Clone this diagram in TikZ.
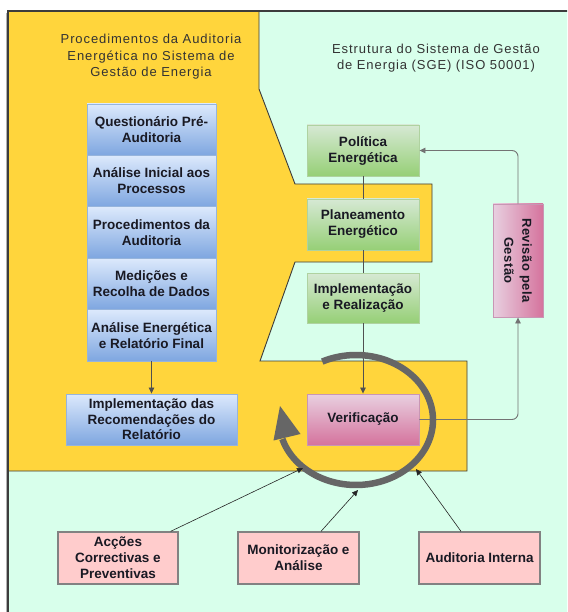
\documentclass[tikz,border=0pt]{standalone}
\usepackage{fontspec}
\setmainfont{Liberation Sans}
\newfontfamily\titlefont[LetterSpace=7]{Liberation Sans}
\newfontfamily\revfont[LetterSpace=4]{Liberation Sans}
\usetikzlibrary{arrows.meta}
\definecolor{mint}{RGB}{216,255,235}
\definecolor{sun}{RGB}{255,213,60}
\definecolor{edgegray}{RGB}{60,60,60}
\definecolor{bluetop}{RGB}{220,233,252}
\definecolor{bluebot}{RGB}{126,166,224}
\definecolor{blueedge}{RGB}{150,180,220}
\definecolor{greentop}{RGB}{214,233,212}
\definecolor{greenbot}{RGB}{150,207,118}
\definecolor{greenedge}{RGB}{175,210,160}
\definecolor{pinktop}{RGB}{232,208,224}
\definecolor{pinkbot}{RGB}{213,115,157}
\definecolor{pinkedge}{RGB}{200,150,180}
\definecolor{rosefill}{RGB}{255,204,204}
\definecolor{roseedge}{RGB}{130,130,130}
\definecolor{ringgray}{RGB}{102,102,102}
\definecolor{linegray}{RGB}{80,80,80}
\definecolor{txt}{RGB}{25,25,35}
\begin{document}
\begin{tikzpicture}[x=1pt,y=-1pt,
  boxtext/.style={align=center,text=txt,inner sep=1pt,
    font=\fontsize{13.5}{16}\selectfont\bfseries},
  bluebox/.style={boxtext,draw=blueedge,line width=0.9pt,top color=bluetop,bottom color=bluebot,
    minimum width=129pt,minimum height=51.4pt},
  greenbox/.style={boxtext,draw=greenedge,line width=0.9pt,top color=greentop,bottom color=greenbot,
    minimum width=112pt,minimum height=51pt},
  rosebox/.style={boxtext,draw=roseedge,line width=1.3pt,fill=rosefill,
    minimum width=120pt,minimum height=52pt},
  titletext/.style={align=center,text=black!80,inner sep=0pt,
    font=\fontsize{13}{16.5}\selectfont\titlefont},
  conn/.style={draw=linegray,line width=0.8pt},
  tip/.style={-{Triangle[length=6pt,width=5.5pt]}},
  loopline/.style={draw=black!55,line width=0.9pt,rounded corners=6pt},
  feed/.style={draw=black!85,line width=0.6pt}
]
\clip (0,0) rectangle (567,612);
\fill[white] (0,0) rectangle (567,612);
% background frame
\fill[mint] (8,11) rectangle (600,650);
% yellow region
\filldraw[fill=sun,draw=edgegray,line width=0.9pt]
  (8,11) -- (259,11) -- (259,89) -- (295,184) -- (432,184) -- (432,262)
  -- (295,262) -- (260,361) -- (467,361) -- (467,471) -- (8,471) -- cycle;
\draw[edgegray,line width=1.4pt] (600,11) -- (8,11) -- (8,650);
\draw[black!30,line width=0.8pt] (6.3,13) -- (6.3,650);

% titles
\node[titletext] (t1) at (151,57) {Procedimentos da Auditoria\\Energética no Sistema de\\Gestão de Energia};
\node[titletext] (t2) at (436,58) {Estrutura do Sistema de Gestão\\de Energia (SGE) (ISO 50001)};

% blue stack
\node[bluebox] (q1) at (151.5,129.7) {Questionário Pré-\\Auditoria};
\node[bluebox] (q2) at (151.5,181.1) {Análise Inicial aos\\Processos};
\node[bluebox] (q3) at (151.5,232.5) {Procedimentos da\\Auditoria};
\node[bluebox] (q4) at (151.5,283.9) {Medições e\\Recolha de Dados};
\node[bluebox] (q5) at (151.5,335.3) {Análise Energética\\e Relatório Final};
\node[bluebox,minimum width=171pt,minimum height=51pt,font=\fontsize{13.5}{15.5}\selectfont\bfseries] (rec) at (151.5,419.5) {Implementação das\\Recomendações do\\Relatório};

% green column
\node[greenbox] (pol) at (363,150.5) {Política\\Energética};
\node[greenbox] (plan) at (363,224.5) {Planeamento\\Energético};
\node[greenbox,minimum height=50pt] (impl) at (363,298) {Implementação\\e Realização};
\node[boxtext,draw=pinkedge,line width=0.9pt,top color=pinktop,bottom color=pinkbot,
  minimum width=112pt,minimum height=51pt] (ver) at (363,419.5) {Verificação};
\node[draw=pinkedge,line width=0.9pt,left color=pinktop,right color=pinkbot,inner sep=0pt,
  minimum width=50pt,minimum height=113pt] (rev) at (518,260.5) {};
\node[boxtext,rotate=-90,font=\fontsize{13}{18}\selectfont\bfseries\revfont] (revlabel) at (rev.center) {Revisão pela\\Gestão};

% bottom boxes
\node[rosebox] (acc) at (118,558) {Acções\\Correctivas e\\Preventivas};
\node[rosebox,minimum width=121pt] (mon) at (298.5,558) {Monitorização e\\Análise};
\node[rosebox,minimum width=121pt] (aud) at (479.5,558) {Auditoria Interna};

% connectors
\draw[conn] (pol) -- (plan);
\draw[conn] (plan) -- (impl);
\draw[conn,tip] (impl) -- (ver);
\draw[conn,tip] (q5) -- (rec);
\draw[loopline,tip] (ver.east) -| (rev.south);
\draw[loopline,tip] (rev.north) |- (pol.east);

% cycle ring
\draw[ringgray,line width=6.5pt] plot[domain=-116:163,samples=90,smooth] ({356+77*cos(\x)},{420+65*sin(\x)});
\fill[ringgray] (280,406) -- (300.5,434) -- (273.5,440.5) -- cycle;

% feeding arrows
\coordinate (e1) at (303,468);
\coordinate (e2) at (358,490);
\coordinate (e3) at (416,469);
\draw[feed,tip] ([xshift=-8pt]acc.north east) -- (e1);
\draw[feed,tip] ([xshift=22.5pt]mon.north) -- (e2);
\draw[feed,tip] ([xshift=-18.5pt]aud.north) -- (e3);
\end{tikzpicture}
\end{document}
